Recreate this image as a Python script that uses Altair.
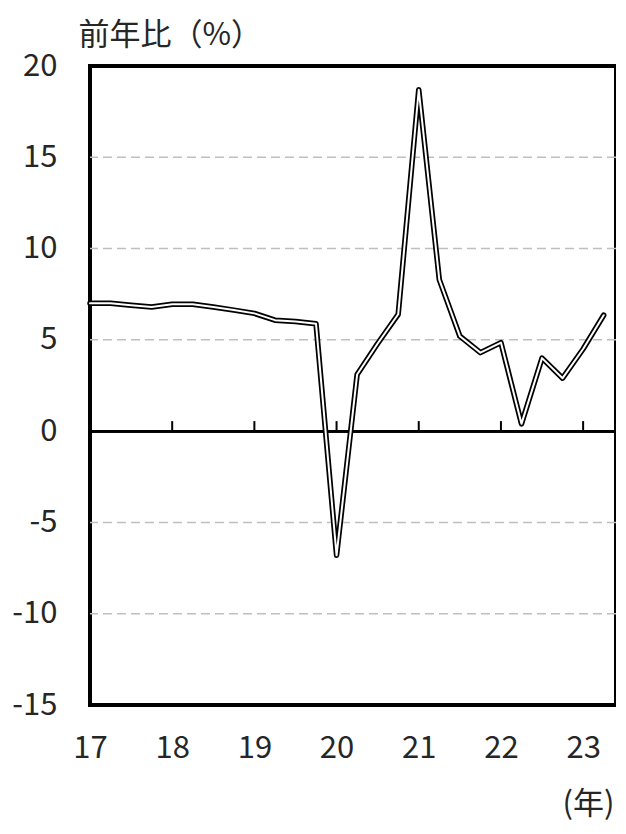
import altair as alt
import pandas as pd

# quarterly data, 2017Q1 .. 2023Q2 (year-on-year %)
quarters = ["17Q1","17Q2","17Q3","17Q4","18Q1","18Q2","18Q3","18Q4",
            "19Q1","19Q2","19Q3","19Q4","20Q1","20Q2","20Q3","20Q4",
            "21Q1","21Q2","21Q3","21Q4","22Q1","22Q2","22Q3","22Q4",
            "23Q1","23Q2"]
values = [7.0, 7.0, 6.9, 6.8, 6.95, 6.95, 6.8, 6.63,
          6.45, 6.08, 6.0, 5.88, -6.8, 3.1, 4.8, 6.4,
          18.7, 8.3, 5.2, 4.3, 4.85, 0.4, 4.0, 2.9,
          4.5, 6.35]
year_ticks = [17, 18, 19, 20, 21, 22, 23]
zero_ticks = [18, 19, 20, 21, 22, 23]
y_ticks = [-15, -10, -5, 0, 5, 10, 15, 20]
grid_values = [-10, -5, 5, 10, 15]

xpos = [int(q[:2]) + (int(q[3]) - 1) * 0.25 for q in quarters]
df = pd.DataFrame({"q": quarters, "x": xpos, "v": values})
grid_df = pd.DataFrame({"g": grid_values})
tick_df = pd.DataFrame({"t": zero_ticks})

FONT = "Noto Sans CJK JP"
FS = 31
TXT = "#262626"

xscale = alt.Scale(domain=[17, 23.4], nice=False, zero=False)
yscale = alt.Scale(domain=[-15, 20], nice=False)

xaxis = alt.Axis(values=year_ticks, format="d", grid=False, domain=False, ticks=False,
                 labelFont=FONT, labelFontSize=FS, labelColor=TXT, labelPadding=28,
                 labelFlush=False, labelOverlap=False,
                 title="(年)", titleFont=FONT, titleFontSize=FS, titleFontWeight="normal",
                 titleColor=TXT, titleX=524, titleY=99, titleAlign="right",
                 titleBaseline="middle", titleLimit=300)
yaxis = alt.Axis(values=y_ticks, grid=False, domain=False, ticks=False,
                 labelExpr="'' + datum.value",
                 labelFont=FONT, labelFontSize=FS, labelColor=TXT, labelPadding=33,
                 labelFlush=False, labelOverlap=False,
                 title="前年比（%）", titleFont=FONT, titleFontSize=FS, titleFontWeight="normal",
                 titleColor=TXT, titleAngle=0, titleX=-12, titleY=-31, titleAlign="left",
                 titleBaseline="middle", titleLimit=400)

grid = alt.Chart(grid_df).mark_rule(color="#bfbfbf", strokeWidth=1.5, strokeDash=[9, 5]).encode(
    y=alt.Y("g:Q", scale=yscale, axis=yaxis)
)

zero = alt.Chart(grid_df).mark_rule(color="black", strokeWidth=2.5).encode(
    y=alt.Y("zero:Q", scale=yscale, axis=yaxis)
).transform_calculate(zero="0")

ticks = alt.Chart(tick_df).mark_rule(color="black", strokeWidth=2).encode(
    x=alt.X("t:Q", scale=xscale, axis=xaxis),
    y=alt.Y("y0:Q", scale=yscale, axis=yaxis),
    y2="y1:Q",
).transform_calculate(y0="0", y1="0.55")

outer = alt.Chart(df).mark_line(color="black", strokeWidth=5.5, strokeJoin="round", strokeCap="round").encode(
    x=alt.X("x:Q", scale=xscale, axis=xaxis),
    y=alt.Y("v:Q", scale=yscale, axis=yaxis),
    order="x:Q",
)

inner = alt.Chart(df).mark_line(color="white", strokeWidth=2, strokeJoin="round", strokeCap="round").encode(
    x=alt.X("x:Q", scale=xscale, axis=xaxis),
    y=alt.Y("v:Q", scale=yscale, axis=yaxis),
    order="x:Q",
)

chart = alt.layer(grid, zero, ticks, outer, inner).properties(
    width=526, height=639,
    autosize=alt.AutoSizeParams(type="none"),
    padding={"left": 82, "top": 58, "right": 0, "bottom": 121},
    background="white",
).configure_view(stroke="black", strokeWidth=4)

chart.save("out.html", embed_options={"renderer": "svg", "actions": False})
